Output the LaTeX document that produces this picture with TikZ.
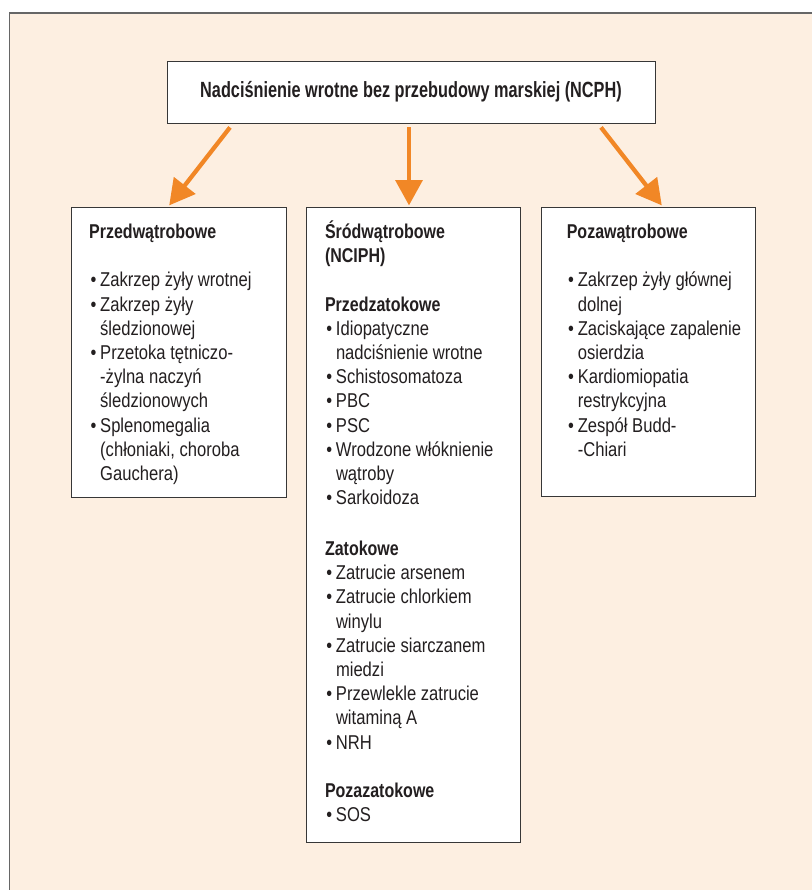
\documentclass[tikz,border=0pt]{standalone}
\usepackage{fontspec}
\setmainfont{Liberation Sans}[FakeStretch=0.83]
\newfontfamily\naglowek{Liberation Sans}[FakeStretch=0.8]
\newfontfamily\tytul{Liberation Sans}[FakeStretch=0.74]
\usepackage{tikz}
\usetikzlibrary{arrows.meta,positioning,calc}

\definecolor{tlo}{RGB}{253,239,225}
\definecolor{pomarancz}{RGB}{241,135,38}
\definecolor{ramka}{RGB}{55,55,55}
\definecolor{tekst}{RGB}{35,31,32}

\newcommand{\pkt}{\makebox[8.25pt][l]{\hspace{1pt}\textbullet}}
\newcommand{\dal}{\hspace*{8.25pt}}
\newcommand{\nag}[1]{{\naglowek\bfseries #1}}
\newcommand{\pole}[4]{\hspace*{#1}\parbox[t][#2][t]{#3}{\raggedright\rule{0pt}{23pt}#4}}

\begin{document}
\begin{tikzpicture}[x=0.75pt,y=-0.75pt,>={Triangle[length=19pt,width=20pt]},
                    text=tekst,font=\fontsize{15}{18.15}\selectfont]
  \tikzstyle{box}=[draw=ramka,fill=white,line width=0.6pt,inner sep=0pt]
  \tikzstyle{arr}=[->,draw=pomarancz,line width=3.2pt]
  \useasboundingbox (0,0) rectangle (812,890);
  \filldraw[fill=tlo,draw=black!60,line width=0.9pt] (9.5,13) rectangle (830,910);

  \node[box,minimum width=366pt,minimum height=46.5pt,
        font=\fontsize{16.5}{18}\selectfont\tytul\bfseries] (NCPH) at (411,92)
  {Nadciśnienie wrotne bez przebudowy marskiej (NCPH)};
  \node[box,below=63pt of NCPH,xshift=1.5pt] (INTRA)
  {\pole{14.25pt}{476.25pt}{146.25pt}{\nag{Śródwątrobowe}\\
    \nag{(NCIPH)}\\[18.15pt]
    \nag{Przedzatokowe}\\
    \pkt Idiopatyczne\\
    \dal nadciśnienie wrotne\\
    \pkt Schistosomatoza\\
    \pkt PBC\\
    \pkt PSC\\
    \pkt Wrodzone włóknienie\\
    \dal wątroby\\
    \pkt Sarkoidoza\\[20pt]
    \nag{Zatokowe}\\
    \pkt Zatrucie arsenem\\
    \pkt Zatrucie chlorkiem\\
    \dal winylu\\
    \pkt Zatrucie siarczanem\\
    \dal miedzi\\
    \pkt Przewlekle zatrucie\\
    \dal witaminą A\\
    \pkt NRH\\[18.15pt]
    \nag{Pozazatokowe}\\
    \pkt SOS}};
  \node[box,left=14.25pt of INTRA.north west,anchor=north east] (PRE)
  {\pole{13.5pt}{217.5pt}{147.75pt}{\nag{Przedwątrobowe}\\[18.15pt]
    \pkt Zakrzep żyły wrotnej\\
    \pkt Zakrzep żyły\\
    \dal śledzionowej\\
    \pkt Przetoka tętniczo-\\
    \dal -żylna naczyń\\
    \dal śledzionowych\\
    \pkt Splenomegalia\\
    \dal (chłoniaki, choroba\\
    \dal Gauchera)}};
  \node[box,right=15.75pt of INTRA.north east,anchor=north west] (POST)
  {\pole{18.75pt}{216.75pt}{141.75pt}{\nag{Pozawątrobowe}\\[18.15pt]
    \pkt Zakrzep żyły głównej\\
    \dal dolnej\\
    \pkt Zaciskające zapalenie\\
    \dal osierdzia\\
    \pkt Kardiomiopatia\\
    \dal restrykcyjna\\
    \pkt Zespół Budd-\\
    \dal -Chiari}};

  \draw[arr] ($(NCPH.south)+(-181,4)$) -- ($(PRE.north)+(-9.5,-2)$);
  \draw[arr] ($(NCPH.south)+(-2,4)$) -- ($(INTRA.north)+(-4,-2)$);
  \draw[arr] ($(NCPH.south)+(190,4)$) -- ($(POST.north)+(13,-2)$);
\end{tikzpicture}
\end{document}
